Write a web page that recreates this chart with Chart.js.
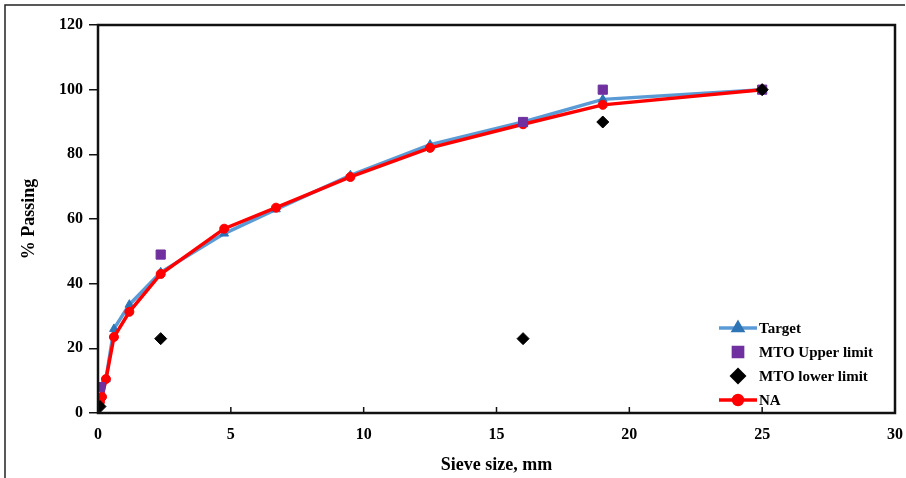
<!DOCTYPE html>
<html>
<head>
<meta charset="utf-8">
<script src="https://cdn.jsdelivr.net/npm/chart.js@4/dist/chart.umd.min.js"></script>
<style>
  html, body { margin: 0; padding: 0; background: #fff; }
  canvas { display: block; }
</style>
</head>
<body>
<canvas id="chart" width="906" height="478"></canvas>
<script>
// data
const sieveSizes = [0.075, 0.15, 0.3, 0.6, 1.18, 2.36, 4.75, 6.7, 9.5, 12.5, 16, 19, 25]
const targetPassing = [3, 5.5, 10.5, 26, 33.5, 43.5, 55.5, 63, 73.5, 83, 90, 97, 100]
const naPassing = [3.5, 5, 10.5, 23.5, 31.3, 43, 57, 63.5, 73, 82, 89.3, 95.3, 100]
const limitSizes = [0.075, 2.36, 16, 19, 25]
const upperLimit = [8, 49, 90, 100, 100]
const lowerLimit = [2, 23, 23, 90, 100]
const xTicks = [0, 5, 10, 15, 20, 25, 30]
const yTicks = [0, 20, 40, 60, 80, 100, 120]

const serif = "'Liberation Serif', 'Times New Roman', serif"

function toPoints(xs, ys){
    return xs.map(function(x, i){ return {x: x, y: ys[i]} })
}

// frame, plot box, inward x ticks, legend inside plot
const decor = {
    id: 'decor',
    beforeDraw(chart){
        const c = chart.ctx
        c.save()
        c.fillStyle = '#fff'
        c.fillRect(0, 0, chart.width, chart.height)
        c.strokeStyle = '#222'
        c.lineWidth = 1.5
        c.beginPath()
        c.moveTo(5, chart.height)
        c.lineTo(5, 5)
        c.lineTo(chart.width - 1, 5)
        c.stroke()
        c.restore()
    },
    afterDatasetsDraw(chart){
        const c = chart.ctx
        const a = chart.chartArea
        const xs = chart.scales.x
        c.save()
        c.strokeStyle = '#111'
        c.lineWidth = 2.5
        c.strokeRect(a.left, a.top, a.right - a.left, a.bottom - a.top)
        c.lineWidth = 1.5
        xTicks.forEach(function(v){
            const px = xs.getPixelForValue(v)
            c.beginPath()
            c.moveTo(px, a.bottom)
            c.lineTo(px, a.bottom - 6)
            c.stroke()
        })

        // legend
        const order = [0, 1, 2, 3]
        const lx = a.right - 176
        let ly = a.bottom - 85
        c.font = 'bold 15px ' + serif
        c.textBaseline = 'middle'
        order.forEach(function(i){
            const ds = chart.data.datasets[i]
            if(ds.showLine){
                c.strokeStyle = ds.borderColor
                c.lineWidth = ds.borderWidth
                c.beginPath()
                c.moveTo(lx, ly)
                c.lineTo(lx + 38, ly)
                c.stroke()
            }
            c.fillStyle = ds.pointBackgroundColor
            c.strokeStyle = ds.pointBorderColor
            Chart.helpers.drawPoint(c, {
                pointStyle: ds.pointStyle,
                radius: ds.legendRadius,
                borderWidth: 1,
                rotation: 0
            }, lx + 19, ly)
            c.fillStyle = '#000'
            c.fillText(ds.label, lx + 40, ly + 1)
            ly += 24
        })
        c.restore()
    }
}

const ctx = document.getElementById('chart').getContext('2d')

const myChart = new Chart(ctx, {
    type: 'scatter',
    data: {
        datasets: [{
            label: 'Target',
            data: toPoints(sieveSizes, targetPassing),
            showLine: true,
            borderColor: 'rgb(91, 155, 213)',
            borderWidth: 3.5,
            pointStyle: 'triangle',
            pointRadius: 5,
            legendRadius: 5,
            pointBorderWidth: 1,
            pointBackgroundColor: 'rgb(46, 117, 182)',
            pointBorderColor: 'rgb(46, 117, 182)',
            order: 3
        }, {
            label: 'MTO Upper limit',
            data: toPoints(limitSizes, upperLimit),
            showLine: false,
            pointStyle: 'rect',
            pointRadius: 6.5,
            legendRadius: 6.5,
            pointBorderWidth: 1,
            pointBackgroundColor: 'rgb(112, 48, 160)',
            pointBorderColor: 'rgb(112, 48, 160)',
            order: 1
        }, {
            label: 'MTO lower limit',
            data: toPoints(limitSizes, lowerLimit),
            showLine: false,
            pointStyle: 'rectRot',
            pointRadius: 6,
            legendRadius: 6,
            pointBorderWidth: 1,
            pointBackgroundColor: '#000',
            pointBorderColor: '#000',
            order: 0
        }, {
            label: 'NA',
            data: toPoints(sieveSizes, naPassing),
            showLine: true,
            borderColor: 'rgb(255, 0, 0)',
            borderWidth: 3.5,
            pointStyle: 'circle',
            pointRadius: 4.5,
            legendRadius: 4.5,
            pointBorderWidth: 1,
            pointBackgroundColor: 'rgb(255, 0, 0)',
            pointBorderColor: 'rgb(255, 0, 0)',
            order: 2
        }]
    },
    options: {
        responsive: false,
        animation: false,
        devicePixelRatio: 1,
        layout: {
            padding: {top: 25, right: 11, left: 0, bottom: 0}
        },
        scales: {
            x: {
                type: 'linear',
                min: 0,
                max: 30,
                afterBuildTicks: function(s){ s.ticks = xTicks.map(function(v){ return {value: v} }) },
                afterFit: function(s){
                    s.height = 65
                    s.paddingLeft = 0
                    s.paddingRight = 0
                },
                grid: {display: true, drawOnChartArea: false, drawTicks: false},
                border: {display: false},
                ticks: {
                    color: '#000',
                    padding: 12,
                    font: {family: serif, size: 16, weight: 'bold'}
                },
                title: {
                    display: true,
                    text: 'Sieve size, mm',
                    color: '#000',
                    padding: {top: 0, bottom: 2},
                    font: {family: serif, size: 18, weight: 'bold'}
                }
            },
            y: {
                min: 0,
                max: 120,
                afterBuildTicks: function(s){ s.ticks = yTicks.map(function(v){ return {value: v} }) },
                afterFit: function(s){ s.width = 98 },
                grid: {drawOnChartArea: false, drawTicks: true, tickLength: 9, color: '#111', lineWidth: 1.5},
                border: {display: false},
                ticks: {
                    color: '#000',
                    padding: 6,
                    font: {family: serif, size: 16, weight: 'bold'}
                },
                title: {
                    display: true,
                    text: '% Passing',
                    color: '#000',
                    padding: {top: 19, bottom: 0},
                    font: {family: serif, size: 18, weight: 'bold'}
                }
            }
        },
        plugins: {
            legend: {display: false},
            tooltip: {enabled: false}
        }
    },
    plugins: [decor]
});
</script>
</body>
</html>
